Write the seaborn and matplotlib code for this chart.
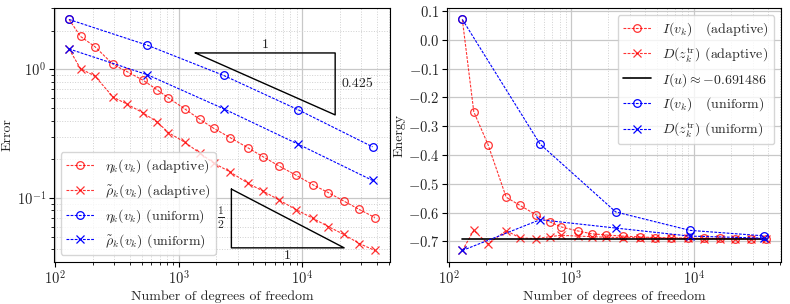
import numpy as np
import matplotlib
matplotlib.use("Agg")
import matplotlib.pyplot as plt
import seaborn as sns

# degrees of freedom
dofs_adapt = [129, 160, 209, 294, 380, 516, 671, 824, 1125, 1471, 1914, 2613,
              3638, 4818, 6501, 8932, 12130, 16260, 21670, 28900, 38730]
dofs_unif = [129, 555, 2300, 9250, 37000]

# error estimators
eta_adapt = [2.44, 1.80, 1.50, 1.09, 0.96, 0.82, 0.69, 0.60, 0.49, 0.41, 0.348,
             0.294, 0.245, 0.209, 0.177, 0.150, 0.127, 0.110, 0.0947, 0.0815, 0.0705]
rho_adapt = [1.44, 1.01, 0.887, 0.607, 0.537, 0.457, 0.388, 0.322, 0.270, 0.224,
             0.187, 0.159, 0.130, 0.113, 0.0964, 0.081, 0.0697, 0.0599, 0.0521,
             0.0443, 0.0391]
eta_unif = [2.44, 1.54, 0.897, 0.485, 0.250]
rho_unif = [1.44, 0.908, 0.494, 0.262, 0.137]

# energies
I_adapt = [0.071, -0.250, -0.364, -0.547, -0.575, -0.608, -0.633, -0.650, -0.664,
           -0.674, -0.678, -0.682, -0.685, -0.687, -0.688, -0.689, -0.690, -0.690,
           -0.691, -0.691, -0.691]
D_adapt = [-0.732, -0.662, -0.709, -0.663, -0.688, -0.691, -0.684, -0.679, -0.682,
           -0.684, -0.686, -0.687, -0.688, -0.689, -0.690, -0.690, -0.691, -0.691,
           -0.691, -0.691, -0.691]
I_unif = [0.071, -0.362, -0.598, -0.662, -0.681]
D_unif = [-0.732, -0.625, -0.654, -0.682, -0.689]
I_exact = -0.691486

# slope triangles
slope_top, slope_bot = 0.425, 0.5

sns.set_theme(style="whitegrid")
plt.rcParams["font.family"] = ["serif"]
plt.rcParams["font.serif"] = ["cmr10", "DejaVu Serif"]
plt.rcParams["mathtext.fontset"] = "cm"
plt.rcParams["axes.formatter.use_mathtext"] = True
plt.rcParams["font.size"] = 10
plt.rcParams["axes.labelsize"] = 10
plt.rcParams["xtick.labelsize"] = 10.5
plt.rcParams["ytick.labelsize"] = 10.5
plt.rcParams["legend.fontsize"] = 10
plt.rcParams["axes.edgecolor"] = "black"
plt.rcParams["axes.linewidth"] = 0.8
plt.rcParams["xtick.bottom"] = True
plt.rcParams["ytick.left"] = True

fig = plt.figure(figsize=(7.9, 3.04), dpi=100)
ax1 = fig.add_axes([0.068, 0.138, 0.426, 0.836])
ax2 = fig.add_axes([0.566, 0.138, 0.423, 0.836])

line_kw = dict(linestyle=(0, (2.5, 1.2)), linewidth=0.8, markersize=5.5,
               markerfacecolor="none", markeredgewidth=0.9)


def draw(ax, x, y, color, marker, label, alpha=1.0):
    sns.lineplot(x=x, y=y, ax=ax, color=color, marker=marker, label=label,
                 sort=False, alpha=alpha, markeredgecolor=color, **line_kw)


# ---- left: errors ----
draw(ax1, dofs_adapt, eta_adapt, "red", "o", r"$\eta_k(v_k)$ (adaptive)", 0.8)
draw(ax1, dofs_adapt, rho_adapt, "red", "x", r"$\tilde\rho_k(v_k)$ (adaptive)", 0.8)
draw(ax1, dofs_unif, eta_unif, "blue", "o", r"$\eta_k(v_k)$ (uniform)")
draw(ax1, dofs_unif, rho_unif, "blue", "x", r"$\tilde\rho_k(v_k)$ (uniform)")
ax1.set_xscale("log")
ax1.set_yscale("log")
ax1.set_xlabel("Number of degrees of freedom", labelpad=2)
ax1.set_ylabel("Error", labelpad=2)

# upper slope triangle
x0, x1, ytop = 1358, 18440, 1.34
ybot = ytop * (x1 / x0) ** (-slope_top)
ax1.plot([x0, x1, x1, x0], [ytop, ytop, ybot, ytop], color="black", lw=1.0)
ax1.text(np.sqrt(x0 * x1), ytop * 1.04, "1", ha="center", va="bottom")
ax1.text(x1 * 1.12, np.sqrt(ytop * ybot), f"{slope_top}", ha="left", va="center")

# lower slope triangle
x0, x1, ybot = 2663, 21800, 0.041
ytop = ybot * (x1 / x0) ** slope_bot
ax1.plot([x0, x0, x1, x0], [ytop, ybot, ybot, ytop], color="black", lw=1.0)
ax1.text(x0 * 0.88, np.sqrt(ytop * ybot), r"$\frac{1}{2}$", ha="right", va="center",
         fontsize=12)
ax1.text(np.sqrt(x0 * x1), ybot * 0.96, "1", ha="center", va="top")

ax1.legend(loc="lower left")

# ---- right: energies ----
draw(ax2, dofs_adapt, I_adapt, "red", "o", r"$I(v_k)$   (adaptive)", 0.8)
draw(ax2, dofs_adapt, D_adapt, "red", "x", r"$D(z_k^{\rm tr})$ (adaptive)", 0.8)
ax2.plot([dofs_adapt[0], dofs_adapt[-1]], [I_exact, I_exact], color="black", lw=1.2,
         label=r"$I(u) \approx {-}0.691486$")
draw(ax2, dofs_unif, I_unif, "blue", "o", r"$I(v_k)$   (uniform)")
draw(ax2, dofs_unif, D_unif, "blue", "x", r"$D(z_k^{\rm tr})$ (uniform)")
ax2.set_xscale("log")
ax2.set_xlabel("Number of degrees of freedom", labelpad=2)
ax2.set_ylabel("Energy", labelpad=2)
ax2.set_yticks(np.arange(-0.7, 0.11, 0.1))
ax2.legend(loc="upper right")

for ax in (ax1, ax2):
    ax.grid(True, which="major", color="#c8c8c8", lw=0.9, ls="-")
    ax.grid(True, which="minor", color="#d0d0d0", lw=0.7, ls=":")
    ax.tick_params(which="major", length=3.5, width=0.8, color="black", pad=2)
    ax.tick_params(which="minor", length=2, width=0.6, color="black")
    for s in ax.spines.values():
        s.set_color("black")
ax2.grid(False, which="minor", axis="y")

fig.savefig("out.png", dpi=100)
